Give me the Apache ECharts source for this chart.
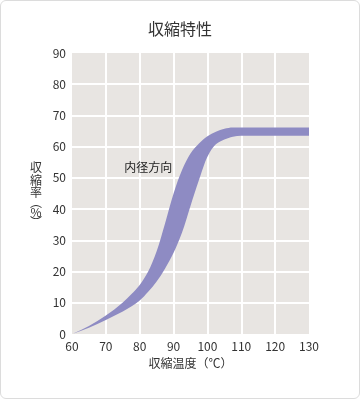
<!DOCTYPE html>
<html><head><meta charset="utf-8">
<script src="https://cdn.jsdelivr.net/npm/echarts@6/dist/echarts.min.js"></script>
<style>
html,body{margin:0;padding:0;background:#fff;}
#wrap{position:relative;width:360px;height:399px;}
#chart{position:absolute;left:0;top:0;width:360px;height:399px;}
#frame{position:absolute;left:0;top:0;width:358px;height:397px;border:1px solid #dcdcdc;border-radius:6px;pointer-events:none;}
</style>
</head><body>
<div id="wrap"><div id="chart"></div><div id="frame"></div></div>
<script>
const temps = [60, 65, 70, 75, 77.5, 80, 82.5, 85, 87.5, 90, 92.5, 95, 97.5, 100, 102.5, 105, 107.5, 110, 120, 130];
const upper = [0, 2.6, 5.9, 10.1, 12.7, 15.7, 20, 26.5, 35.5, 45, 52.5, 57.8, 61, 63.3, 64.8, 65.7, 66.1, 66.1, 66.1, 66.1];
const lower = [0, 2, 4.5, 7.2, 8.8, 10.7, 13.5, 16.8, 21, 26, 32.5, 41, 49.3, 56.8, 60.8, 62.3, 63.2, 63.5, 63.5, 63.5];
const xTicks = [60, 70, 80, 90, 100, 110, 120, 130];
const yTicks = [0, 10, 20, 30, 40, 50, 60, 70, 80, 90];
const titleText = '収縮特性';
const xName = '収縮温度（℃）';
const yNameParts = ['収', '縮', '率', '︵', '%', '︶'];
const note = { text: '内径方向', t: 82.5, v: 53.5 };

const font = '"Noto Sans CJK JP", "Noto Sans", sans-serif';
const bandData = temps.map((t, i) => [t, upper[i], lower[i]]);

// monotone cubic (Fritsch-Carlson) bezier segments through pixel points
function monoSegments(pts) {
  const n = pts.length;
  const dx = [], m = [], d = [];
  for (let i = 0; i < n - 1; i++) {
    dx[i] = pts[i + 1][0] - pts[i][0];
    d[i] = (pts[i + 1][1] - pts[i][1]) / dx[i];
  }
  m[0] = d[0]; m[n - 1] = d[n - 2];
  for (let i = 1; i < n - 1; i++) {
    if (d[i - 1] * d[i] <= 0) m[i] = 0;
    else {
      const w1 = 2 * dx[i] + dx[i - 1], w2 = dx[i] + 2 * dx[i - 1];
      m[i] = (w1 + w2) / (w1 / d[i - 1] + w2 / d[i]);
    }
  }
  const segs = [];
  for (let i = 0; i < n - 1; i++) {
    const h = dx[i] / 3;
    segs.push([
      pts[i],
      [pts[i][0] + h, pts[i][1] + m[i] * h],
      [pts[i + 1][0] - h, pts[i + 1][1] - m[i + 1] * h],
      pts[i + 1]
    ]);
  }
  return segs;
}
const f = p => p[0].toFixed(2) + ' ' + p[1].toFixed(2);

function renderBand(params, api) {
  if (params.dataIndex !== 0) return null;
  const n = bandData.length;
  const up = [], lo = [];
  for (let i = 0; i < n; i++) {
    up.push(api.coord([api.value(0, i), api.value(1, i)]));
    lo.push(api.coord([api.value(0, i), api.value(2, i)]));
  }
  const su = monoSegments(up), sl = monoSegments(lo);
  let d = 'M ' + f(su[0][0]);
  su.forEach(s => { d += ' C ' + f(s[1]) + ' ' + f(s[2]) + ' ' + f(s[3]); });
  d += ' L ' + f(lo[lo.length - 1]);
  for (let i = sl.length - 1; i >= 0; i--) {
    const s = sl[i];
    d += ' C ' + f(s[2]) + ' ' + f(s[1]) + ' ' + f(s[0]);
  }
  d += ' Z';
  return {
    type: 'path',
    shape: { pathData: d },
    style: { fill: '#8e8bc3', stroke: null }
  };
}

const chart = echarts.init(document.getElementById('chart'), null, {renderer: 'canvas'});
chart.setOption({
  animation: false,
  backgroundColor: 'transparent',
  textStyle: { fontFamily: font },
  title: {
    text: titleText, left: 'center', top: 16,
    textStyle: { fontFamily: font, fontSize: 16, fontWeight: 'normal', color: '#333' }
  },
  grid: {
    left: 72, right: 51, top: 53, bottom: 65,
    show: true, backgroundColor: '#e8e5e2', borderWidth: 0
  },
  xAxis: {
    type: 'value', min: xTicks[0], max: xTicks[xTicks.length - 1], interval: 10,
    name: xName, nameLocation: 'middle', nameGap: 23,
    nameTextStyle: { fontFamily: font, fontSize: 12, color: '#333' },
    axisLine: { show: false }, axisTick: { show: false },
    axisLabel: { margin: 6, fontSize: 12, color: '#333', fontFamily: font },
    splitLine: { show: true, showMinLine: false, showMaxLine: false, lineStyle: { color: '#ffffff', width: 2 } }
  },
  yAxis: {
    type: 'value', min: yTicks[0], max: yTicks[yTicks.length - 1], interval: 10,
    name: yNameParts.map(c => (c === '︵' || c === '︶') ? '{p|' + c + '}' : '{c|' + c + '}').join('\n'),
    nameLocation: 'middle', nameGap: 36, nameRotate: 0,
    nameTextStyle: {
      fontFamily: font, fontSize: 12, color: '#333', align: 'center',
      rich: {
        c: { fontFamily: font, fontSize: 12, lineHeight: 12.5, color: '#333' },
        p: { fontFamily: font, fontSize: 12, lineHeight: 7, color: '#333' }
      }
    },
    axisLine: { show: false }, axisTick: { show: false },
    axisLabel: { margin: 6, fontSize: 12, color: '#333', fontFamily: font },
    splitLine: { show: true, showMinLine: false, showMaxLine: false, lineStyle: { color: '#ffffff', width: 2 } }
  },
  series: [
    {
      type: 'custom', data: bandData, renderItem: renderBand, clip: true, silent: true,
      encode: { x: 0, y: [1, 2] },
      markPoint: {
        symbol: 'circle', symbolSize: 0,
        label: { show: true, position: 'inside', formatter: note.text, fontFamily: font, fontSize: 12, color: '#222' },
        data: [{ coord: [note.t, note.v] }]
      }
    }
  ]
});
</script>
</body></html>
